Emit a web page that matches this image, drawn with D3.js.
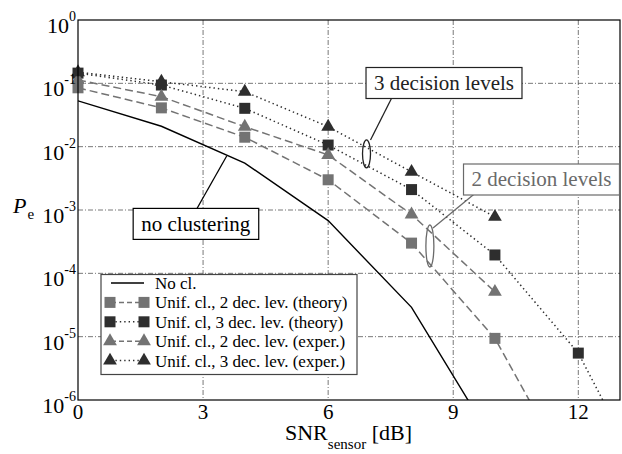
<!DOCTYPE html>
<html>
<head>
<meta charset="utf-8">
<script src="https://cdn.jsdelivr.net/npm/d3@7"></script>
<style>
  html, body { margin: 0; padding: 0; background: #fff; }
  svg { display: block; }
  svg text { font-family: "Liberation Serif", "Times New Roman", "DejaVu Serif", serif; }
</style>
</head>
<body>
<svg id="chart" width="622" height="454"></svg>
<script>
// SNR values (dB) and error probabilities
const noClX = [0, 2, 4, 6, 8, 10];
const noClY = [0.053, 0.021, 5.5e-3, 6.8e-4, 2.9e-5, 2e-7];

const theory2X = [0, 2, 4, 6, 8, 10, 12];
const theory2Y = [0.085, 0.041, 0.0141, 3.0e-3, 3.0e-4, 9.4e-6, 4e-8];

const theory3X = [0, 2, 4, 6, 8, 10, 12, 13];
const theory3Y = [0.145, 0.094, 0.0403, 0.0106, 2.1e-3, 1.95e-4, 5.5e-6, 3e-7];

const exper2X = [0, 2, 4, 6, 8, 10];
const exper2Y = [0.113, 0.0615, 0.0207, 7.4e-3, 8.5e-4, 5.1e-5];

const exper3X = [0, 2, 4, 6, 8, 10];
const exper3Y = [0.15, 0.106, 0.0738, 0.0207, 4.0e-3, 7.8e-4];

const xTicks = [0, 3, 6, 9, 12];
const yExponents = [0, -1, -2, -3, -4, -5, -6];

const legendLabels = [
    'No cl.',
    'Unif. cl., 2 dec. lev. (theory)',
    'Unif. cl, 3 dec. lev. (theory)',
    'Unif. cl., 2 dec. lev. (exper.)',
    'Unif. cl., 3 dec. lev. (exper.)'
];

const svg = d3.select('#chart');
const plot = { left: 78, right: 620, top: 20, bottom: 400 };

const xScale = d3.scaleLinear().domain([0, 13]).range([plot.left, plot.right]);
const yScale = d3.scaleLog().domain([1e-6, 1]).range([plot.bottom, plot.top]);

const dark = '#2e2e2e';
const gray = '#737373';

const series = [
    { xs: noClX, ys: noClY, color: '#000', dash: null, width: 1.4, marker: null },
    { xs: theory2X, ys: theory2Y, color: gray, dash: '8,4', width: 1.5, marker: 'square' },
    { xs: theory3X, ys: theory3Y, color: dark, dash: '1.4,3', width: 1.5, marker: 'square' },
    { xs: exper2X, ys: exper2Y, color: gray, dash: '8,4', width: 1.5, marker: 'triangle' },
    { xs: exper3X, ys: exper3Y, color: dark, dash: '1.4,3', width: 1.5, marker: 'triangle' }
];

// clip for lines
svg.append('defs').append('clipPath').attr('id', 'plot-clip')
    .append('rect')
    .attr('x', plot.left).attr('y', plot.top)
    .attr('width', plot.right - plot.left).attr('height', plot.bottom - plot.top);

// Grid (dash-dot)
const grid = svg.append('g').attr('class', 'grid')
    .style('stroke', '#555').style('stroke-width', 0.8).style('stroke-dasharray', '5,2,1,2');

xTicks.filter(t => t > 0).forEach(t => {
    grid.append('line')
        .attr('x1', xScale(t)).attr('x2', xScale(t))
        .attr('y1', plot.top).attr('y2', plot.bottom);
});
yExponents.filter(e => e > -6 && e < 0).forEach(e => {
    grid.append('line')
        .attr('x1', plot.left).attr('x2', plot.right)
        .attr('y1', yScale(Math.pow(10, e))).attr('y2', yScale(Math.pow(10, e)));
});

// Lines
const lineGen = d3.line().x(d => xScale(d[0])).y(d => yScale(d[1]));
const lines = svg.append('g').attr('clip-path', 'url(#plot-clip)');
series.forEach(s => {
    const pts = s.xs.map((x, i) => [x, s.ys[i]]);
    lines.append('path')
        .attr('d', lineGen(pts))
        .style('fill', 'none')
        .style('stroke', s.color)
        .style('stroke-width', s.width)
        .style('stroke-dasharray', s.dash);
});

// Markers
const squareSym = d3.symbol().type(d3.symbolSquare).size(121);
const triSym = d3.symbol().type(d3.symbolTriangle).size(82);
const markers = svg.append('g');
series.forEach(s => {
    if (!s.marker) return;
    s.xs.forEach((x, i) => {
        const y = s.ys[i];
        if (y < 1e-6 || x > 12) return;
        markers.append('path')
            .attr('transform', `translate(${xScale(x)},${yScale(y)})`)
            .attr('d', s.marker === 'square' ? squareSym() : triSym())
            .style('fill', s.color);
    });
});

// Frame
svg.append('rect')
    .attr('x', plot.left).attr('y', plot.top)
    .attr('width', plot.right - plot.left).attr('height', plot.bottom - plot.top)
    .style('fill', 'none').style('stroke', '#000').style('stroke-width', 1.2);

// X tick labels
xTicks.forEach(t => {
    svg.append('text')
        .attr('x', xScale(t)).attr('y', plot.bottom + 19)
        .attr('text-anchor', 'middle')
        .style('font-size', '21px')
        .text(t);
});

// Y tick labels: 10^e
yExponents.forEach(e => {
    const yy = yScale(Math.pow(10, e));
    const t = svg.append('text')
        .attr('x', 76).attr('y', yy + 13)
        .attr('text-anchor', 'end')
        .style('font-size', '22px');
    t.append('tspan').text('10');
    t.append('tspan').attr('dy', -12).style('font-size', '14px').text(e);
});

// Axis titles
const xt = svg.append('text')
    .attr('x', 285).attr('y', 440)
    .style('font-size', '22px');
xt.append('tspan').text('SNR');
xt.append('tspan').attr('dy', 9).style('font-size', '15px').text('sensor');
xt.append('tspan').attr('dy', -9).text(' [dB]');

const yt = svg.append('text')
    .attr('x', 13).attr('y', 213)
    .style('font-size', '22px');
yt.append('tspan').style('font-style', 'italic').text('P');
yt.append('tspan').attr('dx', 1).attr('dy', 6).style('font-size', '15px').text('e');

// Annotations (callout boxes with leader to an ellipse)
function callout(label, color, cx, cy, lineFrom, lineTo, ellipse, fontSize) {
    const g = svg.append('g');
    if (ellipse) {
        g.append('ellipse')
            .attr('cx', ellipse[0]).attr('cy', ellipse[1])
            .attr('rx', ellipse[2]).attr('ry', ellipse[3])
            .style('fill', 'none').style('stroke', color).style('stroke-width', 1.3);
    }
    g.append('line')
        .attr('x1', lineFrom[0]).attr('y1', lineFrom[1])
        .attr('x2', lineTo[0]).attr('y2', lineTo[1])
        .style('stroke', color).style('stroke-width', 1.3);
    const bg = g.append('rect');
    const txt = g.append('text')
        .attr('x', cx).attr('y', cy)
        .attr('text-anchor', 'middle').attr('dy', '0.35em')
        .style('font-size', fontSize + 'px')
        .style('fill', color)
        .text(label);
    const b = txt.node().getBBox();
    bg.attr('x', b.x - 8).attr('y', cy - 15)
        .attr('width', b.width + 16).attr('height', 31)
        .style('fill', '#fff').style('stroke', color).style('stroke-width', 1.2);
}

callout('3 decision levels', '#222', 444, 82.5,
    [391.7, 98], [370.5, 140], [xScale(6.92), yScale(7.7e-3), 4, 14], 21);
callout('2 decision levels', '#6a6a6a', 541.5, 179,
    [476.7, 192], [433, 228], [xScale(8.44), yScale(2.7e-4), 4, 21], 21);
callout('no clustering', '#000', 195.7, 223.4,
    [195, 212], [226.7, 156], null, 21);

// Legend
const legend = svg.append('g');
legend.append('rect')
    .attr('x', 101).attr('y', 274.5).attr('width', 256).attr('height', 100)
    .style('fill', '#fff').style('stroke', '#444').style('stroke-width', 1.2);
legendLabels.forEach((lab, i) => {
    const s = series[i];
    const yy = 283 + i * 19.4;
    legend.append('line')
        .attr('x1', 111).attr('x2', 144).attr('y1', yy).attr('y2', yy)
        .style('stroke', s.color).style('stroke-width', s.width)
        .style('stroke-dasharray', s.dash ? (s.dash === '8,4' ? '5,3' : '1.4,3') : null);
    if (s.marker) {
        [110, 144].forEach(mx => {
            legend.append('path')
                .attr('transform', `translate(${mx},${yy})`)
                .attr('d', s.marker === 'square' ? squareSym() : triSym())
                .style('fill', s.color);
        });
    }
    legend.append('text')
        .attr('x', 155).attr('y', yy).attr('dy', '0.35em')
        .style('font-size', '17px')
        .text(lab);
});
</script>
</body>
</html>
